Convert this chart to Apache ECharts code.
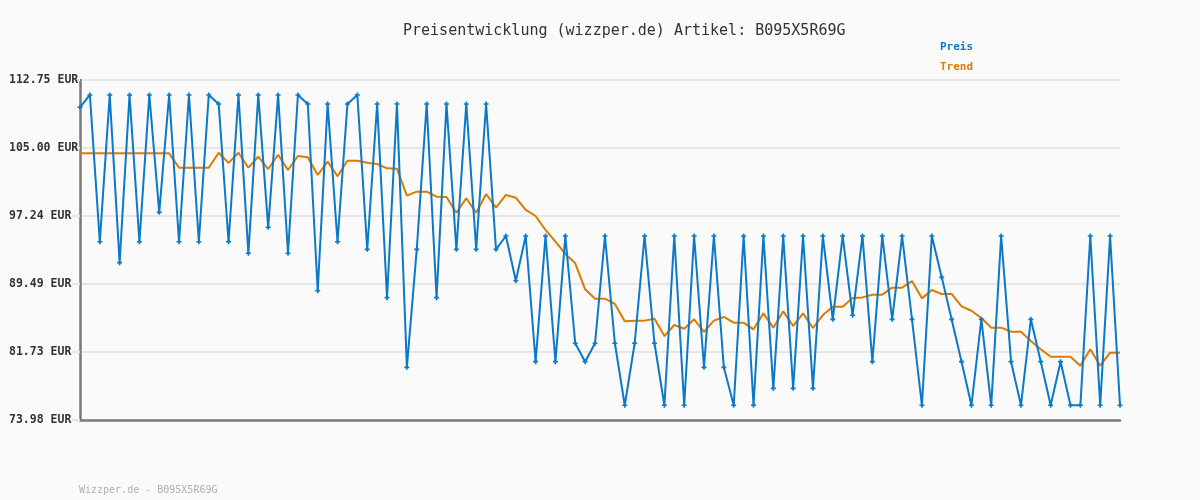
<!DOCTYPE html>
<html>
<head>
<meta charset="utf-8">
<script src="https://cdn.jsdelivr.net/npm/echarts@6/dist/echarts.min.js"></script>
<style>
html,body{margin:0;padding:0;background:#fafafa;}
#chart{width:1200px;height:500px;}
</style>
</head>
<body>
<div id="chart"></div>
<script>
const titleText = "Preisentwicklung (wizzper.de) Artikel: B095X5R69G";
const footerText = "Wizzper.de - B095X5R69G";
const seriesNames = ["Preis", "Trend"];
const categories = ["1","2","3","4","5","6","7","8","9","10","11","12","13","14","15","16","17","18","19","20","21","22","23","24","25","26","27","28","29","30","31","32","33","34","35","36","37","38","39","40","41","42","43","44","45","46","47","48","49","50","51","52","53","54","55","56","57","58","59","60","61","62","63","64","65","66","67","68","69","70","71","72","73","74","75","76","77","78","79","80","81","82","83","84","85","86","87","88","89","90","91","92","93","94","95","96","97","98","99","100","101","102","103","104","105","106"];
const preis = [109.64,111.04,94.31,111.04,91.92,111.04,94.31,111.04,97.66,111.04,
  94.31,111.04,94.31,111.04,110.01,94.31,111.04,92.99,111.04,95.95,
  111.04,92.99,111.04,110.01,88.72,110.01,94.31,110.01,111.04,93.44,
  110.01,87.93,110.01,79.99,93.44,110.01,87.93,110.01,93.44,110.01,
  93.44,110.01,93.44,94.96,89.86,94.96,80.63,94.96,80.63,94.96,
  82.73,80.63,82.73,94.96,82.73,75.66,82.73,94.96,82.73,75.66,
  94.96,75.66,94.96,79.99,94.96,79.99,75.66,94.96,75.66,94.96,
  77.59,94.96,77.59,94.96,77.59,94.96,85.46,94.96,85.92,94.96,
  80.63,94.96,85.46,94.96,85.46,75.66,94.96,90.25,85.46,80.63,
  75.66,85.46,75.66,94.96,80.63,75.66,85.46,80.63,75.66,80.63,
  75.66,75.66,94.96,75.66,94.96,75.66];
const trend = [104.39,104.39,104.39,104.39,104.39,104.39,104.39,104.39,104.39,104.39,
  102.75,102.75,102.75,102.75,104.46,103.30,104.46,102.75,104.00,102.60,
  104.23,102.49,104.08,103.93,101.92,103.44,101.77,103.55,103.55,103.32,
  103.17,102.68,102.64,99.56,100.02,100.02,99.45,99.41,97.62,99.26,
  97.62,99.75,98.19,99.64,99.33,97.93,97.24,95.65,94.31,92.91,
  91.85,88.88,87.81,87.81,87.21,85.23,85.31,85.31,85.53,83.56,
  84.81,84.39,85.46,84.02,85.31,85.73,85.08,85.08,84.32,86.14,
  84.51,86.37,84.70,86.14,84.47,85.95,86.90,86.90,87.89,87.96,
  88.27,88.27,89.07,89.07,89.83,87.85,88.80,88.35,88.35,86.94,
  86.44,85.61,84.51,84.51,84.05,84.05,82.99,82.04,81.20,81.20,
  81.20,80.17,82.04,80.17,81.66,81.66];
const yMin = 73.98, yMax = 112.75;
const yUnit = " EUR";

const blue = '#0b78c8', orange = '#dd7a00';
const mono = '"DejaVu Sans Mono", "Liberation Mono", monospace';
const chart = echarts.init(document.getElementById('chart'), null, {renderer:'canvas'});
chart.setOption({
  backgroundColor: '#fafafa',
  animation: false,
  title: [
    {text: titleText, left: 398, top: 19,
     textStyle: {fontFamily: mono, fontSize: 15, fontWeight: 'normal', color: '#333'}},
    {text: footerText, left: 74, top: 480,
     textStyle: {fontFamily: mono, fontSize: 10, fontWeight: 'normal', color: '#b0b0b0'}}
  ],
  legend: {
    orient: 'vertical', left: 935, top: 40, padding: 0,
    itemWidth: 0, itemHeight: 14, itemGap: 8, icon: 'none',
    selectedMode: false,
    textStyle: {fontFamily: mono, fontSize: 11, fontWeight: 'bold'},
    data: [
      {name: seriesNames[0], textStyle: {color: blue}},
      {name: seriesNames[1], textStyle: {color: orange}}
    ]
  },
  grid: {left: 80, right: 80, top: 80, bottom: 80, containLabel: false},
  xAxis: {
    type: 'category', data: categories, boundaryGap: false,
    axisLine: {show: true, lineStyle: {color: '#7a7a7a', width: 2.5}},
    axisTick: {show: false}, axisLabel: {show: false}, splitLine: {show: false}
  },
  yAxis: {
    type: 'value', min: yMin, max: yMax, interval: (yMax - yMin) / 5,
    axisLine: {show: true, lineStyle: {color: '#7a7a7a', width: 2.5}},
    axisTick: {show: true, length: 8, lineStyle: {color: '#e6e6e6', width: 2}},
    splitLine: {show: true, lineStyle: {color: '#e6e6e6', width: 2}},
    axisLabel: {
      align: 'left', margin: 71,
      fontFamily: mono, fontSize: 11.5, fontWeight: 'bold', color: '#333',
      formatter: v => v.toFixed(2) + yUnit
    }
  },
  series: [
    {name: seriesNames[0], type: 'line', data: preis, z: 3,
     symbol: 'path://M2,0H4V2H6V4H4V6H2V4H0V2H2Z', symbolSize: 5, showAllSymbol: true,
     itemStyle: {color: blue}, lineStyle: {color: blue, width: 2}},
    {name: seriesNames[1], type: 'line', data: trend, z: 2,
     symbol: 'none', itemStyle: {color: orange}, lineStyle: {color: orange, width: 2}}
  ]
});
</script>
</body>
</html>
